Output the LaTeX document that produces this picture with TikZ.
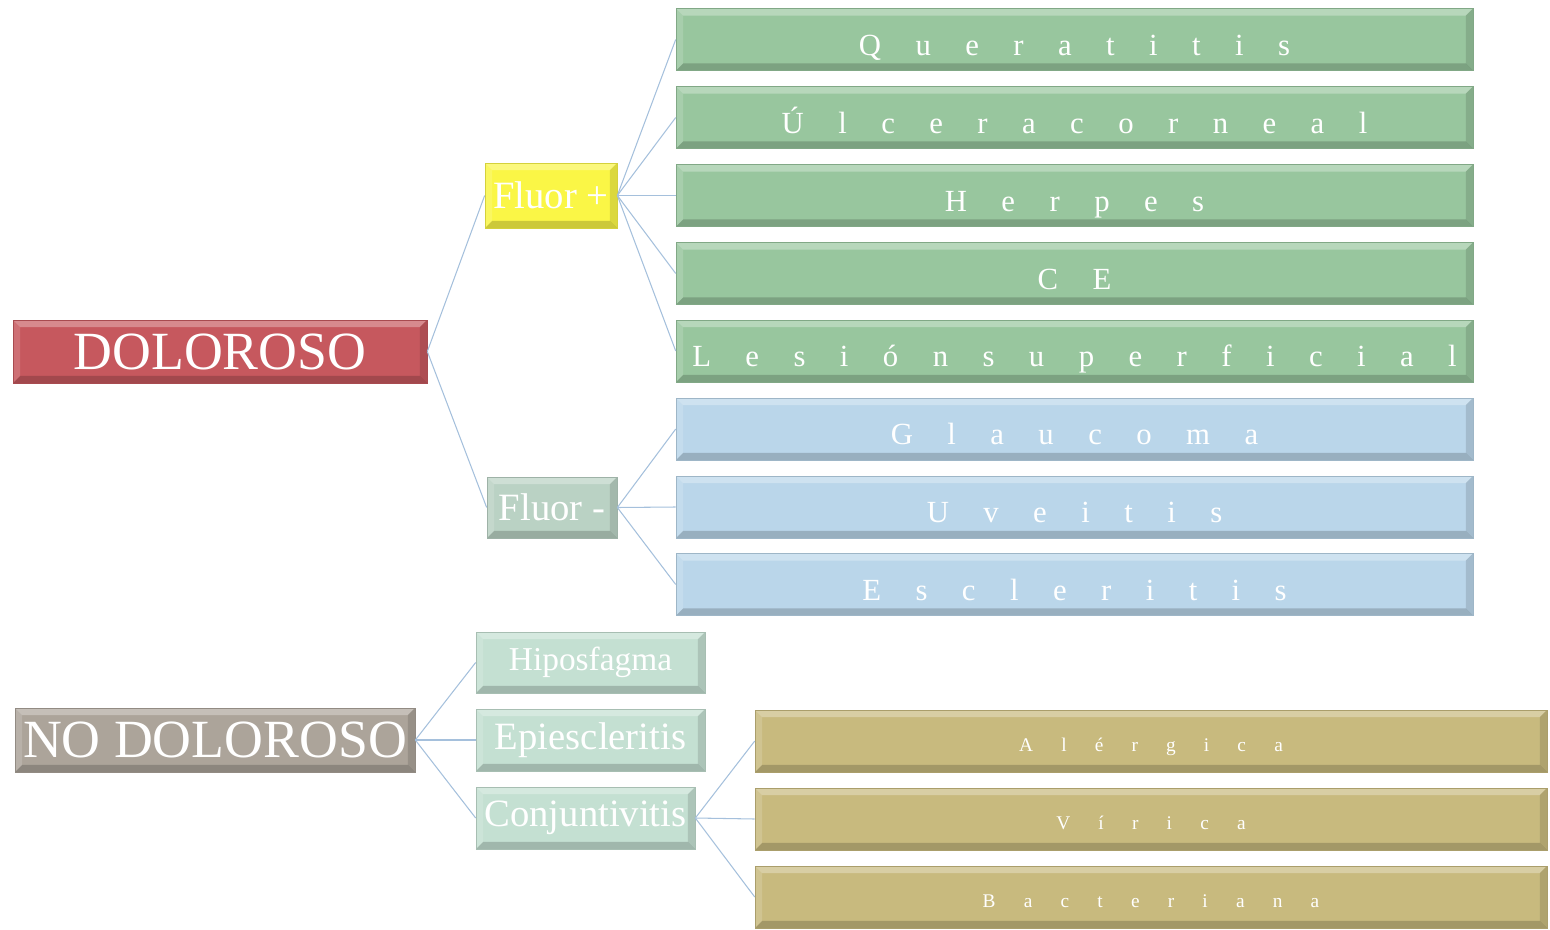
\documentclass[tikz,border=0pt]{standalone}
\usepackage{fontspec}
\setmainfont{Liberation Serif}

\definecolor{rojo}{RGB}{198,88,94}
\definecolor{gris}{RGB}{172,164,154}
\definecolor{amarillo}{RGB}{250,246,70}
\definecolor{verdegris}{RGB}{186,210,196}
\definecolor{verde}{RGB}{152,198,158}
\definecolor{azul}{RGB}{186,214,234}
\definecolor{menta}{RGB}{196,224,210}
\definecolor{ocre}{RGB}{200,186,126}
\definecolor{linea}{RGB}{165,192,220}

\tikzset{
	bisel/.style={path picture={
		\fill[white,opacity=.3] (path picture bounding box.north west) -- (path picture bounding box.north east)
			-- ([shift={(-4pt,-4pt)}]path picture bounding box.north east) -- ([shift={(4pt,-4pt)}]path picture bounding box.north west) -- cycle;
		\fill[white,opacity=.15] (path picture bounding box.north west) -- (path picture bounding box.south west)
			-- ([shift={(4pt,4pt)}]path picture bounding box.south west) -- ([shift={(4pt,-4pt)}]path picture bounding box.north west) -- cycle;
		\fill[black,opacity=.18] (path picture bounding box.south west) -- (path picture bounding box.south east)
			-- ([shift={(-4pt,4pt)}]path picture bounding box.south east) -- ([shift={(4pt,4pt)}]path picture bounding box.south west) -- cycle;
		\fill[black,opacity=.12] (path picture bounding box.north east) -- (path picture bounding box.south east)
			-- ([shift={(-4pt,4pt)}]path picture bounding box.south east) -- ([shift={(-4pt,-4pt)}]path picture bounding box.north east) -- cycle;
	}},
	caja/.style={draw=#1!85!black, fill=#1, line width=0.4pt, text=white, inner sep=0pt, bisel},
	grande/.style={font=\fontsize{30.6}{36}\selectfont},
	medio/.style={font=\fontsize{22}{26}\selectfont},
	ancha/.style={minimum width=15.94cm, minimum height=1.24cm},
	espaciado/.style={font=\fontsize{17.5}{20}\selectfont\addfontfeature{LetterSpace=112}, text height=18pt, text depth=0pt},
	espaciadob/.style={font=\fontsize{11}{14}\selectfont\addfontfeature{LetterSpace=146}, text height=12.5pt, text depth=0pt},
	rama/.style={draw=linea, line width=0.6pt}
}

\begin{document}
\begin{tikzpicture}[x=0.02cm,y=-0.02cm]
		\useasboundingbox (0,0) rectangle (1550,929);
		% nivel 1
		\node[caja=rojo, minimum width=8.28cm, minimum height=1.26cm, grande] (dol) at (220,351.5) {DOLOROSO};
		\node[caja=gris, minimum width=8cm, minimum height=1.28cm, grande] (nodol) at (215,740) {NO DOLOROSO};
		% nivel 2
		\node[caja=amarillo, minimum width=2.64cm, minimum height=1.3cm, medio] (fmas) at (551,195.5) {Fluor +};
		\node[caja=verdegris, minimum width=2.6cm, minimum height=1.22cm, medio] (fmenos) at (552,507.5) {Fluor -};
		\node[caja=menta, minimum width=4.58cm, minimum height=1.22cm, font=\fontsize{19}{22}\selectfont] (hipo) at (590.5,662.5) {Hiposfagma};
		\node[caja=menta, minimum width=4.58cm, minimum height=1.24cm, medio] (epi) at (590.5,740) {Epiescleritis};
		\node[caja=menta, minimum width=4.38cm, minimum height=1.24cm, medio] (conj) at (585.5,818) {Conjuntivitis};
		\draw[rama] (dol.east) -- (fmas.west);
		\draw[rama] (dol.east) -- (fmenos.west);
		\draw[rama] (nodol.east) -- (hipo.west);
		\draw[rama] (nodol.east) -- (epi.west);
		\draw[rama] (nodol.east) -- (conj.west);
		% nivel 3
		\foreach \n/\y/\t in {q/39.5/Queratitis, u/117.5/Úlceracorneal, h/195.5/Herpes, ce/273.5/CE, l/351/Lesiónsuperficial}{
			\node[caja=verde, ancha, espaciado] (\n) at (1074.5,\y) {\t};
			\draw[rama] (fmas.east) -- (\n.west);
		}
		\foreach \n/\y/\t in {g/429/Glaucoma, uv/507/Uveitis, e/584.5/Escleritis}{
			\node[caja=azul, ancha, espaciado] (\n) at (1074.5,\y) {\t};
			\draw[rama] (fmenos.east) -- (\n.west);
		}
		\foreach \n/\y/\t in {a/741/Alérgica, v/819/Vírica, b/897/Bacteriana}{
			\node[caja=ocre, minimum width=15.84cm, minimum height=1.24cm, espaciadob] (\n) at (1151,\y) {\t};
			\draw[rama] (conj.east) -- (\n.west);
		}
\end{tikzpicture}
\end{document}
